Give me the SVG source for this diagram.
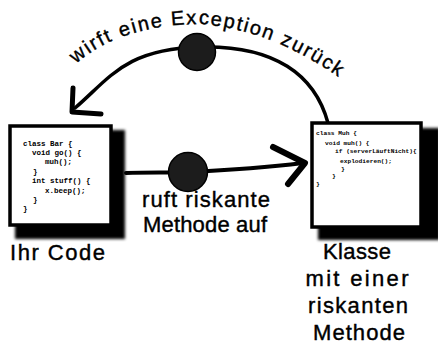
<svg xmlns="http://www.w3.org/2000/svg" width="438" height="352" viewBox="0 0 438 352">
<style>
.lbl{font-family:"Liberation Sans",Arial,sans-serif;font-size:22px;fill:#000;stroke:#000;stroke-width:0.4}
.code{font-family:"Liberation Mono",monospace;font-weight:bold;fill:#000}
.box{fill:#fff;stroke:#000;stroke-width:3.5}
.shadow{fill:#000;filter:url(#fuzz)}
.conn{fill:none;stroke:#000;stroke-linecap:round;stroke-linejoin:round}
.dot{fill:#1c1c1c;stroke:#000;stroke-width:1.5}
</style>
<defs>
<filter id="fuzz" x="-10%" y="-10%" width="120%" height="120%"><feGaussianBlur stdDeviation="1.6"/></filter>
<path id="arcText" d="M76,64 Q120,25 200,24 Q275,30 345,82"/>
</defs>
<rect width="438" height="352" fill="#fff"/>

<g id="connectors">
<path class="conn" stroke-width="3.5" d="M328,123 C315,75 275,45 200,47 S110,78 75,108"/>
<path class="conn" stroke-width="5" d="M73,88 L72,112 L101,114"/>
<path class="conn" stroke-width="4" d="M126,173 C150,172 170,173 188,172 C230,170 270,167 303,163"/>
<path class="conn" stroke-width="6" d="M273,147 L305,163 L288,184"/>
<circle class="dot" cx="197" cy="52" r="18.5"/>
<circle class="dot" cx="188" cy="172" r="19.5"/>
<text class="lbl" style="font-size:20px"><textPath href="#arcText" textLength="283">wirft eine Exception zurück</textPath></text>
<text class="lbl" x="206" y="207" text-anchor="middle" textLength="128">ruft riskante</text>
<text class="lbl" x="205" y="232" text-anchor="middle" textLength="124">Methode auf</text>
</g>

<g id="ihr-code">
<rect class="shadow" x="15" y="130" width="110" height="109"/>
<rect class="box" x="10" y="126" width="101" height="99"/>
<g class="code" style="font-size:7.5px">
<text x="23" y="146">class Bar {</text>
<text x="32" y="155">void go() {</text>
<text x="45" y="164">muh();</text>
<text x="33" y="174">}</text>
<text x="32" y="183">int stuff() {</text>
<text x="45" y="193">x.beep();</text>
<text x="33" y="202">}</text>
<text x="23" y="211">}</text>
</g>
<text class="lbl" x="10" y="260" textLength="95">Ihr Code</text>
</g>

<g id="klasse">
<rect class="shadow" x="318" y="128" width="122" height="112"/>
<rect class="box" x="312" y="123" width="109" height="104"/>
<g class="code" style="font-size:6.2px">
<text x="316" y="135">class Muh {</text>
<text x="325" y="145">void muh() {</text>
<text x="335" y="153">if (serverLäuftNicht){</text>
<text x="340" y="163">explodieren();</text>
<text x="341" y="171">}</text>
<text x="332" y="178">}</text>
<text x="316" y="186">}</text>
</g>
<text class="lbl" x="357" y="259" text-anchor="middle" textLength="68">Klasse</text>
<text class="lbl" x="357" y="286" text-anchor="middle" textLength="103">mit einer</text>
<text class="lbl" x="358" y="313" text-anchor="middle" textLength="100">riskanten</text>
<text class="lbl" x="359" y="340" text-anchor="middle" textLength="92">Methode</text>
</g>
</svg>
